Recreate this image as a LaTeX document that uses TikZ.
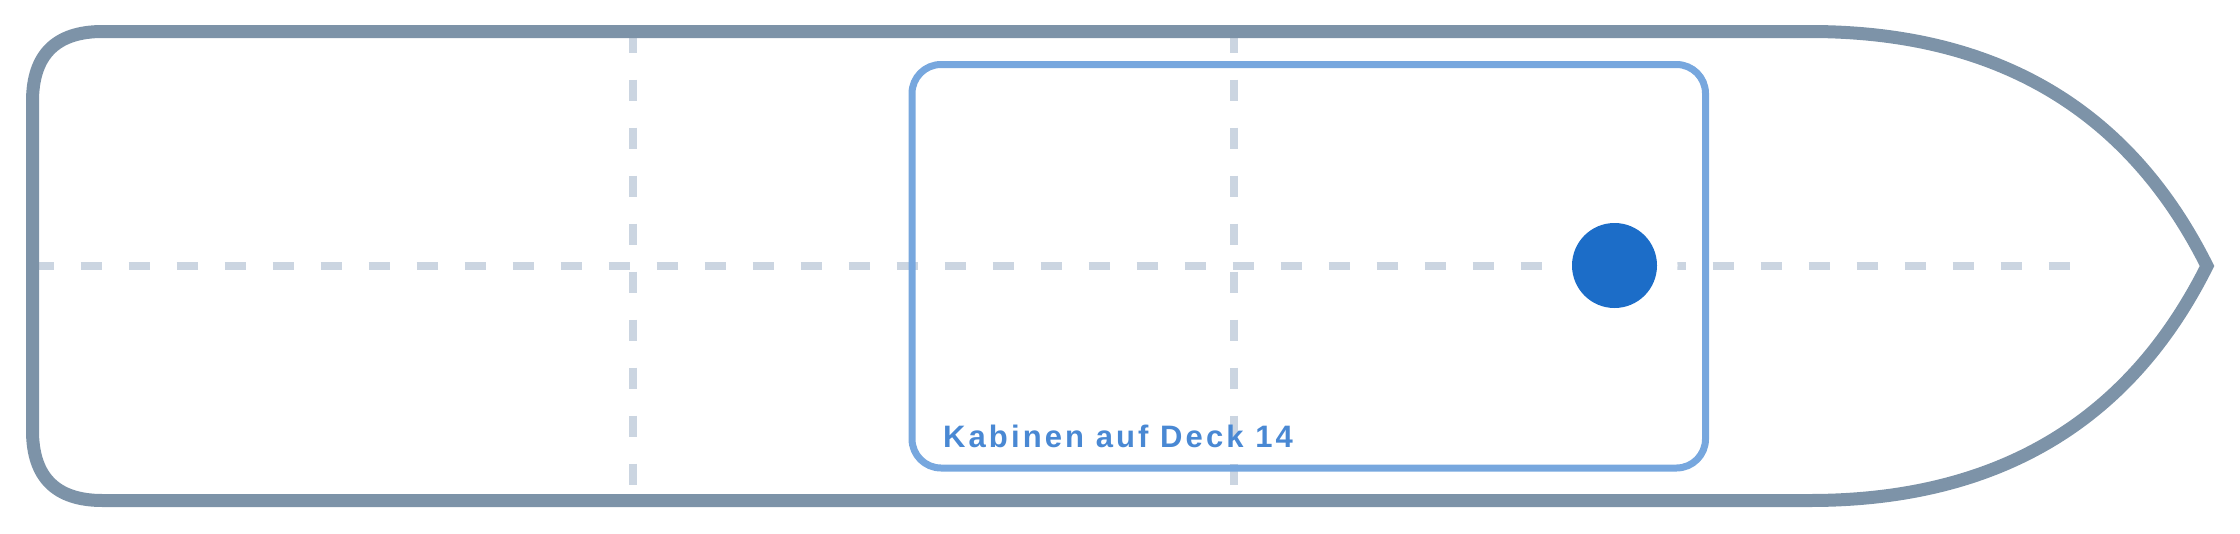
\documentclass[tikz,border=0pt]{standalone}
\usepackage{fontspec}
\setmainfont{Liberation Sans}
\newfontfamily\labelfont[LetterSpace=10]{Liberation Sans}
\definecolor{hull}{RGB}{125,147,168}
\definecolor{grid}{RGB}{203,213,225}
\definecolor{cabin}{RGB}{119,167,222}
\definecolor{dot}{RGB}{28,109,200}
\definecolor{labelc}{RGB}{73,136,211}
\tikzset{
  hullline/.style={draw=hull,line width=13pt,line join=miter},
  gridline/.style={draw=grid,line width=8pt,dash pattern=on 21pt off 27pt},
  cabinbox/.style={draw=cabin,line width=7pt,rounded corners=29pt},
}
\begin{document}
\begin{tikzpicture}[x=1pt,y=-1pt]
\useasboundingbox (0,0) rectangle (2240,533);
% grid lines
\coordinate (hl0) at (32.5,266);
\coordinate (hl1) at (2080,266);
\coordinate (va0) at (633,31.5);
\coordinate (va1) at (633,500.5);
\coordinate (vb0) at (1234,31.5);
\coordinate (vb1) at (1234,500.5);
\draw[gridline] (hl0) -- (hl1);
\draw[gridline] (va0) -- (va1);
\draw[gridline] (vb0) -- (vb1);
% hull
\draw[hullline] (102.5,31.5) -- (1810,31.5)
  .. controls (1996.7,31.5) and (2129,109.7) .. (2207,266)
  .. controls (2129,422.3) and (1996.7,500.5) .. (1810,500.5)
  -- (102.5,500.5)
  .. controls (55.8,500.5) and (32.5,477.2) .. (32.5,430.5)
  -- (32.5,101.5)
  .. controls (32.5,54.8) and (55.8,31.5) .. (102.5,31.5) -- cycle;
% cabin
\draw[cabinbox] (912,64.5) rectangle (1705.5,468);
% dot
\node[circle,fill=white,minimum size=126pt,inner sep=0pt] (halo) at (1614.5,265.5) {};
\node[circle,fill=dot,minimum size=85pt,inner sep=0pt] (dot) at (halo.center) {};
% label
\node[anchor=base west,inner sep=0pt,text=labelc,font=\labelfont\bfseries\fontsize{31}{36}\selectfont] (lbl) at (943,447) {Kabinen auf Deck 14};
\end{tikzpicture}
\end{document}
